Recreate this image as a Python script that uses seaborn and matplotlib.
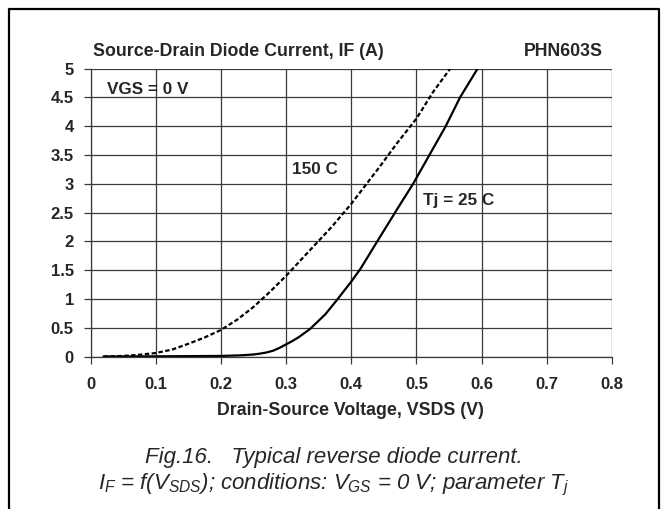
import numpy as np
import pandas as pd
import matplotlib
matplotlib.use("Agg")
import matplotlib.pyplot as plt
import seaborn as sns

# Tj = 25 C (solid)
vsd_25 = [0.02, 0.1, 0.2, 0.23, 0.25, 0.26, 0.27, 0.28, 0.29, 0.3, 0.31, 0.32, 0.337, 0.36,
          0.378, 0.4, 0.414, 0.44, 0.47, 0.495, 0.52, 0.545, 0.567, 0.594]
if_25 = [0.0, 0.003, 0.01, 0.02, 0.035, 0.05, 0.07, 0.1, 0.15, 0.21, 0.27, 0.34, 0.48, 0.73,
         0.98, 1.3, 1.52, 2.0, 2.55, 3.0, 3.5, 4.0, 4.5, 5.0]

# Tj = 150 C (dashed)
vsd_150 = [0.02, 0.05, 0.07, 0.1, 0.125, 0.15, 0.175, 0.2, 0.225, 0.25, 0.275, 0.3,
           0.337, 0.37, 0.4, 0.444, 0.47, 0.5, 0.526, 0.552]
if_150 = [0.0, 0.01, 0.025, 0.06, 0.12, 0.22, 0.33, 0.46, 0.64, 0.86, 1.12, 1.4,
          1.85, 2.25, 2.65, 3.3, 3.7, 4.13, 4.6, 5.0]

x_ticks = [0, 0.1, 0.2, 0.3, 0.4, 0.5, 0.6, 0.7, 0.8]
x_labels = ["0", "0.1", "0.2", "0.3", "0.4", "0.5", "0.6", "0.7", "0.8"]
y_ticks = [0, 0.5, 1, 1.5, 2, 2.5, 3, 3.5, 4, 4.5, 5]
y_labels = ["0", "0.5", "1", "1.5", "2", "2.5", "3", "3.5", "4", "4.5", "5"]

sns.set_style("white")
plt.rcParams["font.family"] = ["Liberation Sans", "DejaVu Sans"]
plt.rcParams["mathtext.fontset"] = "custom"
plt.rcParams["mathtext.rm"] = "Liberation Sans:italic"
plt.rcParams["mathtext.it"] = "Liberation Sans:italic"

df = pd.concat([
    pd.DataFrame({"v": vsd_25, "i": if_25, "Tj": "25 C"}),
    pd.DataFrame({"v": vsd_150, "i": if_150, "Tj": "150 C"}),
])

fig = plt.figure(figsize=(6.67, 5.09), dpi=100)
ax = fig.add_axes([0.1357, 0.2996, 0.7818, 0.5658])

sns.lineplot(data=df, x="v", y="i", style="Tj", dashes={"25 C": "", "150 C": (2.0, 1.1)},
             color="black", linewidth=1.6, sort=False, legend=False, ax=ax)

grid_col = "#3a3a3a"
ax.set_xlim(0, 0.8)
ax.set_ylim(0, 5)
ax.set_xticks(x_ticks)
ax.set_xticklabels(x_labels, fontsize=12, fontweight="bold")
ax.set_yticks(y_ticks)
ax.set_yticklabels(y_labels, fontsize=12, fontweight="bold")
ax.grid(True, color=grid_col, linewidth=0.9)
ax.tick_params(axis="both", length=5, width=0.9, color=grid_col, direction="out",
               left=True, bottom=True)
ax.tick_params(axis="x", pad=10)
ax.tick_params(axis="y", pad=7)
for s in ["top", "right"]:
    ax.spines[s].set_visible(False)
for s in ["left", "bottom"]:
    ax.spines[s].set_color(grid_col)
    ax.spines[s].set_linewidth(0.9)

ax.set_xlabel("Drain-Source Voltage, VSDS (V)", fontsize=12.8, fontweight="bold")
ax.xaxis.set_label_coords(0.4976, -0.158)
ax.set_ylabel("")

ax.text(0.025, 4.56, "VGS = 0 V", fontsize=12.3, fontweight="bold", va="baseline")
ax.text(0.309, 3.16, "150 C", fontsize=12.3, fontweight="bold", va="baseline")
ax.text(0.510, 2.63, "Tj = 25 C", fontsize=12.3, fontweight="bold", va="baseline")

fig.text(93 / 667, 1 - 55.5 / 509, "Source-Drain Diode Current, IF (A)", fontsize=12.8,
         fontweight="bold", va="baseline", ha="left")
fig.text(603 / 667, 1 - 55.5 / 509, "PHN603S", fontsize=12.8, fontweight="bold",
         va="baseline", ha="right")

fig.text(0.5, 1 - 457 / 509, "Fig.16.   Typical reverse diode current.", fontsize=16,
         style="italic", ha="center", va="center")
fig.text(0.5, 1 - 485 / 509,
         r"$I_F$ = f($V_{SDS}$); conditions: $V_{GS}$ = 0 V; parameter $T_j$",
         fontsize=16, style="italic", ha="center", va="center")

# outer frame
fig.add_artist(plt.Line2D([8.5 / 667, 8.5 / 667, 658.5 / 667, 658.5 / 667],
                          [0, 1 - 8.5 / 509, 1 - 8.5 / 509, 0],
                          color="black", linewidth=1.6, transform=fig.transFigure))

fig.savefig("out.png", dpi=100)
